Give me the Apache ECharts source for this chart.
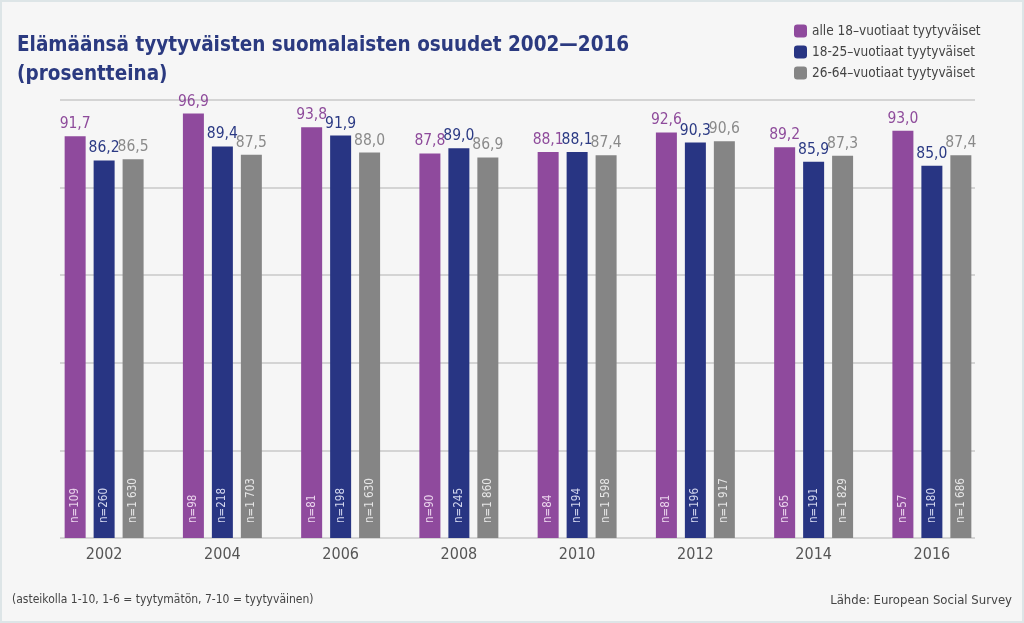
<!DOCTYPE html>
<html><head><meta charset="utf-8">
<script src="https://cdn.jsdelivr.net/npm/echarts@6/dist/echarts.min.js"></script>
<style>
html,body{margin:0;padding:0;background:#f6f6f6;}
#c{width:1020px;height:619px;border:2px solid #dde5e7;background:#f6f6f6;}
</style></head>
<body><div id="c"></div>
<script>
var years = ['2002','2004','2006','2008','2010','2012','2014','2016'];
var seriesNames = ['alle 18–vuotiaat tyytyväiset','18-25–vuotiaat tyytyväiset','26-64–vuotiaat tyytyväiset'];
var under18 = [91.7, 96.9, 93.8, 87.8, 88.1, 92.6, 89.2, 93.0];
var age18to25 = [86.2, 89.4, 91.9, 89.0, 88.1, 90.3, 85.9, 85.0];
var age26to64 = [86.5, 87.5, 88.0, 86.9, 87.4, 90.6, 87.3, 87.4];
var nUnder18 = ['109','98','81','90','84','81','65','57'];
var n18to25 = ['260','218','198','245','194','196','191','180'];
var n26to64 = ['1 630','1 703','1 630','1 860','1 598','1 917','1 829','1 686'];

var FONT = "'Liberation Sans Narrow','DejaVu Sans Condensed','Roboto Condensed','Liberation Sans',sans-serif";
var colors = ['#8f4a9d','#283583','#858585'];
var labelColors = ['#8e4b9b','#2b3a84','#8a8a8a'];
var nColors = ['#ead3ec','#d2d6ee','#e6e6e6'];
var values = [under18, age18to25, age26to64];
var ns = [nUnder18, n18to25, n26to64];

var chart = echarts.init(document.getElementById('c'));
var series = [];
values.forEach(function(v,i){
  series.push({
    name: seriesNames[i], type:'bar', xAxisIndex:0, yAxisIndex:0,
    data: v, barWidth:21, barGap:'38%',
    itemStyle:{color:colors[i]},
    label:{show:true, position:'top', distance:4, color:labelColors[i], fontFamily:FONT, fontSize:15.5,
      formatter:function(p){return p.value.toFixed(1).replace('.',',');}}
  });
});
values.forEach(function(v,i){
  series.push({
    name: 'n'+i, type:'bar', xAxisIndex:1, yAxisIndex:0,
    data: v, barWidth:21, barGap:'38%', silent:true,
    itemStyle:{color:'rgba(0,0,0,0)'},
    label:{show:true, position:'insideBottom', rotate:90, align:'left', verticalAlign:'middle', distance:15,
      color:nColors[i], fontFamily:FONT, fontSize:11.5,
      formatter:function(p){return 'n=' + ns[i][p.dataIndex];}}
  });
});

chart.setOption({
  backgroundColor:'#f6f6f6',
  animation:false,
  title:{text:'Elämäänsä tyytyväisten suomalaisten osuudet 2002—2016\n(prosentteina)', left:10, top:24,
    textStyle:{fontFamily:FONT, fontWeight:'bold', fontSize:20.5, color:'#2b3a80', lineHeight:29}},
  legend:{data:seriesNames, orient:'vertical', left:787, top:17, itemWidth:13, itemHeight:13, itemGap:7, icon:'roundRect',
    textStyle:{fontFamily:FONT, fontSize:13.5, color:'#444'}},
  graphic:[
    {type:'text', left:10, top:592, style:{text:'(asteikolla 1-10, 1-6 = tyytymätön, 7-10 = tyytyväinen)', fontFamily:FONT, fontSize:12, fill:'#444'}},
    {type:'text', right:10, top:592, style:{text:'Lähde: European Social Survey', fontFamily:FONT, fontSize:13, fill:'#444'}}
  ],
  grid:[{left:43, right:31, top:98, bottom:83},{left:58, right:47, top:98, bottom:83}],
  xAxis:[
    {type:'category', data:years, gridIndex:0, axisLine:{show:false}, axisTick:{show:false},
      axisLabel:{fontFamily:FONT, fontSize:16, color:'#555', margin:9}},
    {type:'category', data:years, gridIndex:0, show:false},
    {type:'value', gridIndex:1, show:false, min:0, max:1}
  ],
  yAxis:[
    {type:'value', gridIndex:0, min:0, max:100, interval:20, show:false},
    {type:'value', gridIndex:1, min:0, max:100, interval:20, axisLabel:{show:false}, axisLine:{show:false}, axisTick:{show:false},
      splitLine:{show:true, lineStyle:{color:'#c8c8c8', width:1.5}}}
  ],
  series: series
});
</script></body></html>
